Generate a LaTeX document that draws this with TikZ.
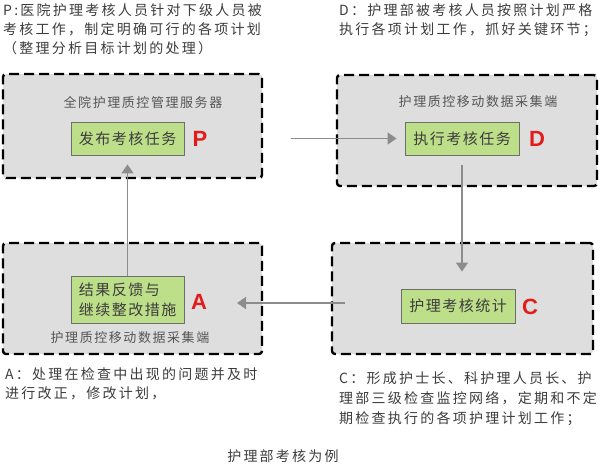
\documentclass[tikz,border=0pt]{standalone}
\usepackage{fontspec}
\usetikzlibrary{arrows.meta}
\newfontfamily\cjkA[LetterSpace=16]{Noto Sans CJK SC}
\newfontfamily\cjkB[LetterSpace=12]{Noto Sans CJK SC}
\newfontfamily\cjkC[LetterSpace=10]{Noto Sans CJK SC}
\newfontfamily\latf{Liberation Sans}
\definecolor{txt}{HTML}{3C3C3C}
\definecolor{labgray}{HTML}{555555}
\definecolor{boxgray}{HTML}{DEDEDE}
\definecolor{taskgreen}{HTML}{BEDF8A}
\definecolor{taskborder}{HTML}{6E6E6E}
\definecolor{arrgray}{HTML}{8C8C8C}
\definecolor{letred}{HTML}{E31B1B}
\begin{document}
\begin{tikzpicture}[x=1pt,y=-1pt,
  frame/.style={draw=black, line width=2.4pt, dash pattern=on 10pt off 5pt, rounded corners=3pt, fill=boxgray, inner sep=0},
  task/.style={draw=taskborder, line width=0.9pt, fill=taskgreen, minimum width=113pt, inner sep=0, font=\cjkC\fontsize{15}{20}\selectfont, text=txt},
  letter/.style={text=letred, font=\latf\bfseries\fontsize{22}{22}\selectfont, inner sep=0},
  arr/.style={draw=arrgray, line width=1.6pt, -{Triangle[width=12pt,length=9pt]}},
  note/.style={anchor=north west, inner sep=0, align=left, text=txt},
  boxlabel/.style={text=labgray, inner sep=0, font=\cjkB\fontsize{13}{16}\selectfont}]
\useasboundingbox (0,0) rectangle (600,464);

% frames
\node[frame, minimum width=259pt, minimum height=104pt] (ftl) at (132.5,126) {};
\node[frame, minimum width=260pt, minimum height=111pt] (ftr) at (467,130.5) {};
\node[frame, minimum width=259pt, minimum height=111pt] (fbl) at (132.5,298.5) {};
\node[frame, minimum width=261pt, minimum height=111pt] (fbr) at (462.5,298.5) {};

% frame labels
\node[boxlabel] (ltl) at (143,102) {全院护理质控管理服务器};
\node[boxlabel] (ltr) at (478,102) {护理质控移动数据采集端};
\node[boxlabel] (lbl) at (130,338) {护理质控移动数据采集端};

% task boxes
\node[task, minimum height=33pt] (P) at (127.5,138.5) {发布考核任务};
\node[task, minimum width=114pt, minimum height=33pt] (D) at (462,138.5) {执行考核任务};
\node[task, minimum height=47pt, align=left] (A) at (127.5,299.5) {结果反馈与\\继续整改措施};
\node[task, minimum width=114pt, minimum height=34pt] (C) at (458,306) {护理考核统计};

% letters
\node[letter] (lP) at (200,138.5) {P};
\node[letter] (lD) at (537,138.5) {D};
\node[letter] (lA) at (199,302) {A};
\node[letter] (lC) at (530,307) {C};

% connectors
\draw[arr, shorten <=28pt, shorten >=8pt] (ftl.east |- P.center) -- (D.west);
\draw[arr, shorten <=10pt, shorten >=17pt] (D.south) -- (D.south |- C.north);
\coordinate (bstart) at (345,303);
\coordinate (bend) at (237,303);
\draw[arr] (bstart) -- (bend);
\draw[arr, shorten >=9pt] (A.north) -- (P.south);

% notes
\node[note, font=\cjkA\fontsize{14}{19}\selectfont] (ntl) at (3,3.5)
  {P:医院护理考核人员针对下级人员被\\考核工作，制定明确可行的各项计划\\（整理分析目标计划的处理）};
\node[note, font=\cjkA\fontsize{14}{19}\selectfont] (ntr) at (339,3.5)
  {D：护理部被考核人员按照计划严格\\执行各项计划工作，抓好关键环节；};
\node[note, font=\cjkA\fontsize{14}{19}\selectfont] (nbl) at (5,367.5)
  {A：处理在检查中出现的问题并及时\\进行改正，修改计划，};
\node[note, font=\cjkA\fontsize{14}{20}\selectfont] (nbr) at (339,371.5)
  {C：形成护士长、科护理人员长、护\\理部三级检查监控网络，定期和不定\\期检查执行的各项护理计划工作；};
\node[text=txt, inner sep=0, font=\cjkA\fontsize{14}{19}\selectfont] (cap) at (283,456) {护理部考核为例};
\end{tikzpicture}
\end{document}
